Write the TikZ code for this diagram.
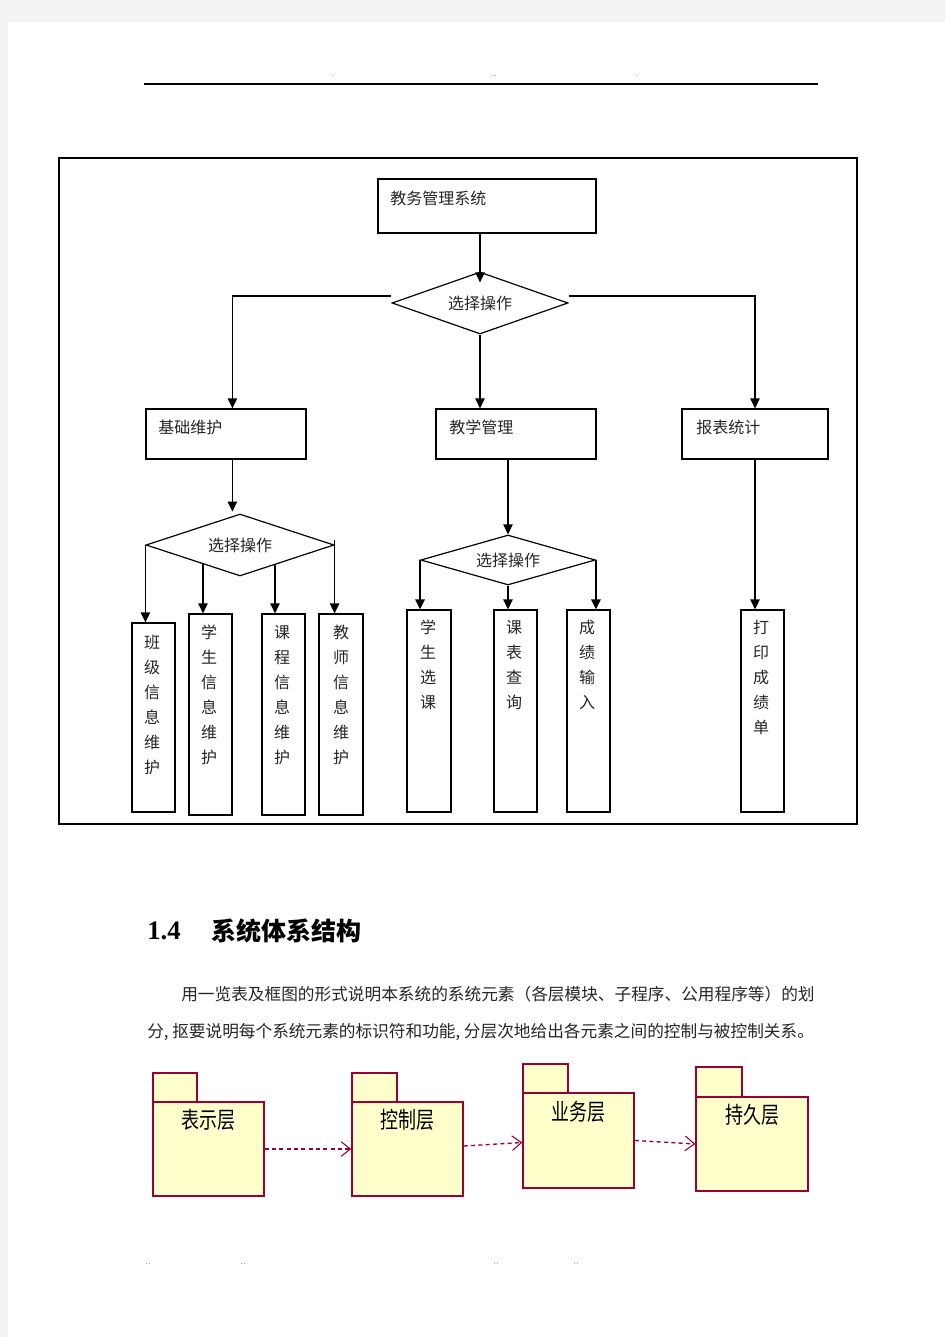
\documentclass[tikz,border=0pt]{standalone}
\usepackage{fontspec}
\usepackage{graphicx}
\newfontfamily\cjk{Noto Sans CJK SC}
\newfontfamily\numfont{Liberation Serif}
\usetikzlibrary{arrows.meta,shapes.geometric,fit,calc}
\definecolor{pagegray}{RGB}{243,243,243}
\definecolor{pkgfill}{RGB}{255,255,204}
\definecolor{pkgline}{RGB}{153,0,51}
\begin{document}
\begin{tikzpicture}[x=0.75pt,y=-0.75pt,
  box/.style={draw=black,line width=0.9pt,inner sep=0pt},
  lbl/.style={font=\cjk\fontsize{12}{18.75}\selectfont,inner sep=0pt,anchor=west,text=black!85},
  vlbl/.style={font=\cjk\fontsize{12}{18.75}\selectfont,inner sep=0pt,anchor=north,align=center,text=black!85},
  choice/.style={diamond,draw=black,line width=0.9pt,inner sep=0pt,aspect=3,font=\cjk\fontsize{12}{14}\selectfont,text=black!85},
  arr/.style={draw=black,line width=1.1pt,-{Triangle[length=7.5pt,width=7pt]}},
  pkg/.style={draw=pkgline,fill=pkgfill,line width=1.1pt,inner sep=0pt},
  pkgtxt/.style={font=\cjk\fontsize{15}{15}\selectfont,inner sep=0pt},
  dep/.style={draw=pkgline,line width=1pt,dash pattern=on 3pt off 2.5pt,-{Straight Barb[length=7pt,width=11pt,line width=0.8pt]}},
  hdot/.style={font=\fontsize{6}{6}\selectfont,inner sep=0pt,text=black!80}
]
\useasboundingbox (0,0) rectangle (945,1337);
\fill[pagegray] (0,0) rectangle (945,1337);
\fill[white] (8,22) rectangle (945,1337);

% header
\node[hdot] (hd1) at (333,76) {.};
\node[hdot] (hd2) at (494,76) {..};
\node[hdot] (hd3) at (637,76) {.};
\draw[line width=0.8pt] (144,84) -- (818,84);

% frame
\node[draw=black,line width=0.8pt,inner sep=0pt,fit={(59,158) (857,824)}] (frame) {};

% top box
\node[box, fit={(378,179) (596,233)}] (sys) {};
\node[lbl] (syst) at (390,198) {教务管理系统};

% diamonds
\node[choice, minimum width=132pt, minimum height=46.5pt] (d1) at (480,303) {选择操作\hspace{6pt}};

% level 2 boxes
\node[box, fit={(146,409) (306,459)}] (b1) {};
\node[lbl] (b1t) at (158,427) {基础维护};
\node[box, fit={(436,409) (596,459)}] (b2) {};
\node[lbl] (b2t) at (449,427) {教学管理};
\node[box, fit={(682,409) (828,459)}] (b3) {};
\node[lbl] (b3t) at (696,427) {报表统计};

\node[choice, minimum width=141pt, minimum height=46.5pt] (d2) at (240,545) {选择操作\hspace{10.5pt}};
\node[choice, minimum width=131pt, minimum height=37.5pt] (d3) at (508,560) {选择操作\hspace{4.5pt}};

% leaves
\node[box, fit={(132,623) (175,812)}] (l1) {};
\node[vlbl] (l1t) at (152,635) {班\\级\\信\\息\\维\\护};
\node[box, fit={(189,614) (232,815)}] (l2) {};
\node[vlbl] (l2t) at (209,625) {学\\生\\信\\息\\维\\护};
\node[box, fit={(262,614) (305,815)}] (l3) {};
\node[vlbl] (l3t) at (282,625) {课\\程\\信\\息\\维\\护};
\node[box, fit={(319,614) (363,815)}] (l4) {};
\node[vlbl] (l4t) at (341,625) {教\\师\\信\\息\\维\\护};

\node[box, fit={(407,610) (451,812)}] (m1) {};
\node[vlbl] (m1t) at (428,620) {学\\生\\选\\课};
\node[box, fit={(494,610) (537,812)}] (m2) {};
\node[vlbl] (m2t) at (514,620) {课\\表\\查\\询};
\node[box, fit={(567,610) (610,812)}] (m3) {};
\node[vlbl] (m3t) at (587,620) {成\\绩\\输\\入};

\node[box, fit={(741,610) (784,812)}] (r1) {};
\node[vlbl] (r1t) at (761,620) {打\\印\\成\\绩\\单};

% connectors
\draw[arr] (d1.north |- sys.south) -- ($(d1.north)+(0,11)$);
\draw[arr] ($(d1.west)+(0,-7)$) -| ($(b1.north west)+(87,0)$);
\draw[arr] (d1.south) -- (d1.south |- b2.north);
\draw[arr] ($(d1.east)+(0,-7)$) -| (b3.north);

\draw[arr] ($(b1.south west)+(87,0)$) -- ++(0,52);
\coordinate (k2) at ($(d2.center)+(-37,19)$);
\coordinate (k3) at ($(d2.center)+(35,19)$);
\coordinate (k4) at ($(d2.east)+(0,-5)$);
\draw[arr] (d2.west) -- (d2.west |- l1.north);
\draw[arr] (k2) -- (k2 |- l2.north);
\draw[arr] (k3) -- (k3 |- l3.north);
\draw[arr] (k4) -- (k4 |- l4.north);

\draw[arr] (d3.north |- b2.south) -- (d3.north);
\draw[arr] (d3.west) -- (d3.west |- m1.north);
\draw[arr] (d3.south) -- (d3.south |- m2.north);
\draw[arr] (d3.east) -- (d3.east |- m3.north);

\draw[arr] (b3.south) -- (b3.south |- r1.north);

% section heading and paragraph
\node[inner sep=0pt,anchor=west,font=\numfont\bfseries\fontsize{20}{20}\selectfont] (secnum) at (147,931) {1.4};
\node[inner sep=0pt,anchor=west,font=\cjk\bfseries\fontsize{18.75}{18.75}\selectfont] (sectitle) at (211,931) {系统体系结构};
\node[inner sep=0pt,anchor=west,font=\cjk\fontsize{12.5}{12.5}\selectfont,text=black!85] (para1) at (181,994) {用一览表及框图的形式说明本系统的系统元素（各层模块、子程序、公用程序等）的划};
\node[inner sep=0pt,anchor=west,font=\cjk\fontsize{12.5}{12.5}\selectfont,text=black!85] (para2) at (147,1032) {分\makebox[0.5em][l]{,}抠要说明每个系统元素的标识符和功能\makebox[0.5em][l]{,}分层次地给出各元素之间的控制与被控制关系。};

% packages
\node[pkg, fit={(153,1073) (197,1102)}] (p1tab) {};
\node[pkg, fit={(153,1102) (264,1196)}] (p1) {};
\node[pkgtxt] (p1t) at (208,1120) {\scalebox{0.9}[1.15]{表示层}};
\node[pkg, fit={(352,1073) (397,1102)}] (p2tab) {};
\node[pkg, fit={(352,1102) (463,1196)}] (p2) {};
\node[pkgtxt] (p2t) at (407,1120) {\scalebox{0.9}[1.15]{控制层}};
\node[pkg, fit={(523,1064) (568,1093)}] (p3tab) {};
\node[pkg, fit={(523,1093) (634,1188)}] (p3) {};
\node[pkgtxt] (p3t) at (578,1112) {\scalebox{0.9}[1.15]{业务层}};
\node[pkg, fit={(696,1067) (742,1097)}] (p4tab) {};
\node[pkg, fit={(696,1097) (808,1191)}] (p4) {};
\node[pkgtxt] (p4t) at (752,1115) {\scalebox{0.9}[1.15]{持久层}};

\draw[dep,line width=1.5pt] (p1.east) -- (p2.west);
\draw[dep] ($(p2.east)+(0,-3)$) -- ($(p3.west)+(0,2)$);
\draw[dep] (p3.east) -- (p4.west);

% footer
\node[hdot] (fd1) at (148,1264) {..};
\node[hdot] (fd2) at (243,1264) {..};
\node[hdot] (fd3) at (496,1264) {..};
\node[hdot] (fd4) at (576,1264) {..};
\end{tikzpicture}
\end{document}
